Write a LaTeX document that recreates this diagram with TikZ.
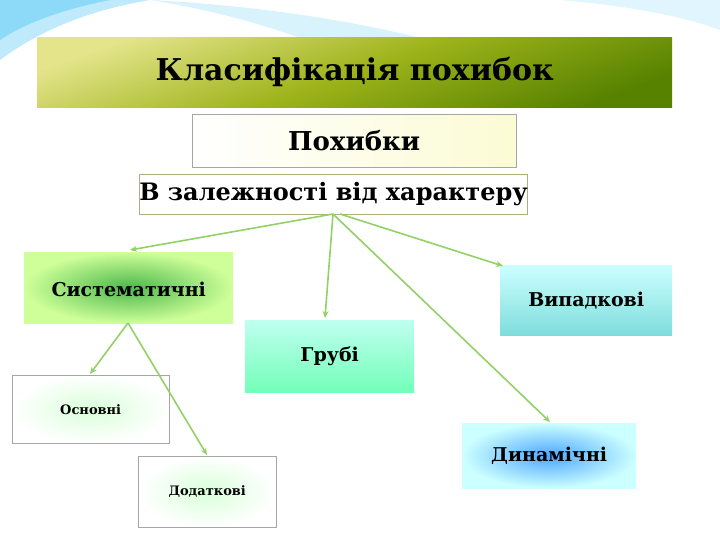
\documentclass[tikz,border=0pt]{standalone}
\usepackage{fontspec}
\setmainfont{DejaVu Serif}
\usetikzlibrary{arrows.meta}
\begin{document}
\begin{tikzpicture}[x=1pt,y=-1pt,
  box/.style={minimum width=#1, inner sep=0pt, anchor=north west},
  conn/.style={draw=green!45!lime!70!black!60, line width=1.6pt, -{Stealth[length=7pt,width=6pt]}},
  fs/.style={font=\bfseries\fontsize{#1}{#1}\selectfont}]
\useasboundingbox (0,0) rectangle (720,540);
\fill[cyan!25] (0,0) -- (150,0) .. controls (90,10) and (40,30) .. (0,60) -- cycle;
\fill[cyan!45] (0,0) -- (110,0) .. controls (70,8) and (30,20) .. (0,40) -- cycle;
\fill[cyan!15] (150,0) .. controls (250,5) and (350,20) .. (420,38) -- (300,38) .. controls (250,20) and (200,8) .. (150,0);
\fill[cyan!12] (560,0) .. controls (620,5) and (680,15) .. (720,30) -- (720,0) -- cycle;
% title
\node[box=635pt, minimum height=70pt, top color=yellow!40!olive!35, bottom color=olive!80!green!85!black, shading angle=20] (t) at (37,37) {};
\node[fs=30] at (t.center) {Класифікація похибок};
\node[box=324pt, minimum height=53pt, draw=gray!70, left color=white, right color=olive!20!yellow!15] (p) at (192,114) {};
\node[fs=26] at (p.center) {Похибки};
\node[box=388pt, minimum height=40pt, draw=olive!40!gray!70, line width=1pt, fill=white] (z) at (139,174) {};
\node[fs=24] at (z.center) {В залежності від характеру};
\node[box=209pt, minimum height=71pt, inner color=green!60!black!70, outer color=green!30!lime!40] (s) at (24,252) {};
\node[fs=19] at ([yshift=-2pt]s.center) {Систематичні};
\node[box=172pt, minimum height=70pt, top color=cyan!20, bottom color=cyan!45!teal!50] (v) at (500,265) {};
\node[fs=19] at (v.center) {Випадкові};
\node[box=169pt, minimum height=72pt, top color=green!25!cyan!25, bottom color=green!50!cyan!55] (g) at (245,320) {};
\node[fs=19] at (g.center) {Грубі};
\node[box=157pt, minimum height=68pt, draw=gray!70, inner color=green!15, outer color=white] (o) at (12,375) {};
\node[fs=13] at (o.center) {Основні};
\node[box=138pt, minimum height=71pt, draw=gray!70, inner color=green!15, outer color=white] (d) at (138,456) {};
\node[fs=13] at (d.center) {Додаткові};
\node[box=174pt, minimum height=65pt, inner color=blue!50!cyan!70, outer color=cyan!20] (n) at (462,423) {};
\node[fs=19] at (n.center) {Динамічні};
\coordinate (zs) at (333,214);
\coordinate (sb) at (128,323);
\draw[conn] (zs) -- (130,250);
\draw[conn] (zs) -- (325,318);
\draw[conn] (340,214) -- (503,266);
\draw[conn] (zs) -- (550,422);
\draw[conn] (sb) -- (90,374);
\draw[conn] (sb) -- (207,455);
\end{tikzpicture}
\end{document}
